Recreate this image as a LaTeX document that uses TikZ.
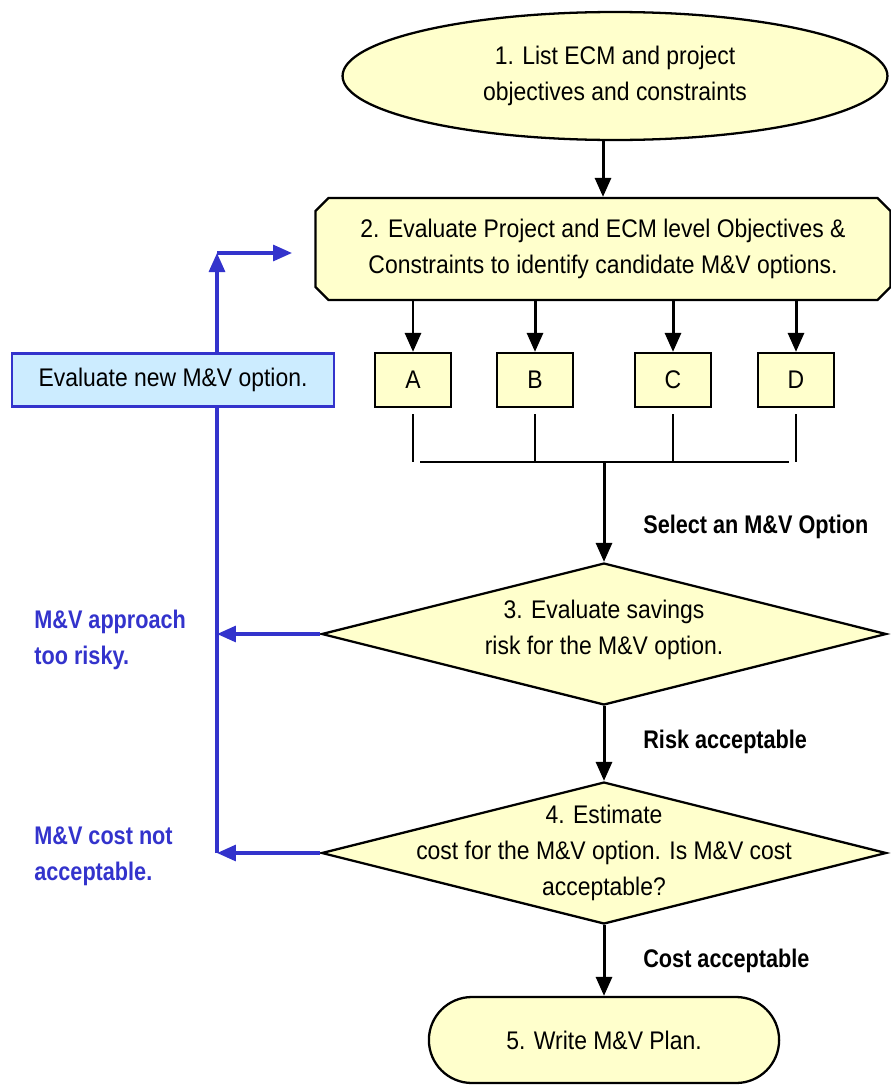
\documentclass[tikz,border=0pt]{standalone}
\usepackage{fontspec}
\setmainfont{Liberation Sans}[FakeStretch=0.9,BoldFeatures={FakeStretch=0.85}]
\usetikzlibrary{shapes.geometric,shapes.misc,arrows.meta,calc}
\definecolor{boxyellow}{HTML}{FFFFCC}
\definecolor{loopblue}{HTML}{3333CC}
\definecolor{boxblue}{HTML}{CCECFF}
\begin{document}
\begin{tikzpicture}[x=0.02cm,y=-0.02cm,>={Triangle[length=0.38cm,width=0.32cm]},line width=1.7pt,font=\fontsize{14.5}{20.5}\selectfont]
	\tikzset{
		yellowbox/.style={draw,fill=boxyellow,line width=1.3pt,align=center},
		startstop/.style={yellowbox,ellipse,inner sep=0pt,minimum width=10.9cm,minimum height=2.56cm},
		process/.style={yellowbox,chamfered rectangle,chamfered rectangle sep=0.13cm,minimum width=11.5cm,minimum height=2.04cm},
		optionbox/.style={yellowbox,minimum width=1.52cm,minimum height=1.08cm},
		decision/.style={yellowbox,diamond,inner sep=0pt,minimum width=11.3cm,minimum height=2.84cm},
		planend/.style={yellowbox,rounded rectangle,minimum width=7.24cm,minimum height=1.72cm},
		newoption/.style={draw=loopblue,fill=boxblue,line width=1.2pt,minimum width=6.44cm,minimum height=1.06cm},
		steplabel/.style={anchor=west,font=\fontsize{14.5}{20.5}\selectfont\bfseries},
		looplabel/.style={anchor=west,align=left,text=loopblue,font=\fontsize{14.5}{20.5}\selectfont\bfseries},
		backarrow/.style={draw=loopblue,->,line width=1.8pt}
	}
	\useasboundingbox (0,0) rectangle (890,1085);
	% steps
	\node[startstop] (s1) at (615,76) {1. List ECM and project\\objectives and constraints};
	\node[process] (s2) at (603,249) {2. Evaluate Project and ECM level Objectives \&\\Constraints to identify candidate M\&V options.};
	\node[optionbox] (A) at (413,380) {A};
	\node[optionbox] (B) at (535,380) {B};
	\node[optionbox] (C) at (673,380) {C};
	\node[optionbox] (D) at (796,380) {D};
	\node[decision] (s3) at (604,634) {};
	\node[align=center] (s3t) at (604,630) {3. Evaluate savings\\risk for the M\&V option.};
	\node[decision] (s4) at (604,853) {};
	\node[align=center] (s4t) at (604,853) {4. Estimate\\cost for the M\&V option. Is M\&V cost\\acceptable?};
	\node[planend] (s5) at (604,1040) {5. Write M\&V Plan.};
	% main flow
	\coordinate (bus) at (604,462);
	\draw[->] (s2.north |- s1.south) -- (s2.north);
	\foreach \o in {A,B,C,D}{
		\draw[->] (\o.north |- s2.south) -- (\o.north);
		\draw[line width=1.2pt] ($(\o.south)+(0,6)$) -- (\o.south |- bus);
	}
	\draw[line width=1.2pt] ($(A.south |- bus)+(7,0)$) -- ($(D.south |- bus)+(-7,0)$);
	\draw[->] (bus) -- (s3.north);
	\draw[->] (s3.south) -- (s4.north);
	\draw[->] (s4.south) -- (s5.north);
	\node[steplabel] (sel) at (636,527) {Select an M\&V Option};
	\node[steplabel] (risk) at (636,742) {Risk acceptable};
	\node[steplabel] (cost) at (636,961) {Cost acceptable};
	% way back
	\coordinate (corner) at (217,253);
	\coordinate (loopend) at (292,253);
	\draw[backarrow] (s3.west) -- (s3.west -| corner);
	\draw[backarrow] (s4.west) -- (s4.west -| corner);
	\draw[backarrow] (s4.west -| corner) -- (corner);
	\draw[backarrow] (corner) -- (loopend);
	\node[newoption] (newopt) at (173,380) {Evaluate new M\&V option.};
	\node[looplabel] (risky) at (27,640) {M\&V approach\\too risky.};
	\node[looplabel] (costly) at (27,856) {M\&V cost not\\acceptable.};
\end{tikzpicture}
\end{document}
